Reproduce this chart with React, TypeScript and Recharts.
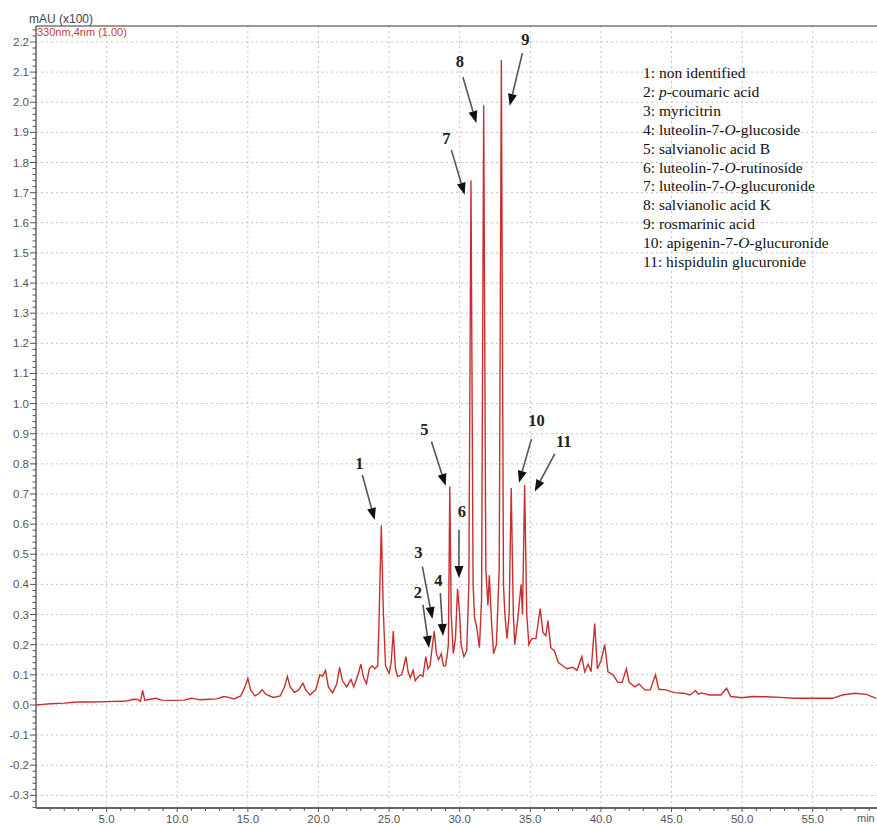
import React from 'react';
import { LineChart, Line, XAxis, YAxis, CartesianGrid, ReferenceLine } from 'recharts';

// retention time (min)
const retentionTime = [
  0, 0.5, 1.0, 2.0, 2.7, 3.0, 4.0, 5.0, 6.0, 6.5,
  6.9, 7.2, 7.4, 7.55, 7.7, 8.0, 8.5, 8.9, 9.5, 10.5,
  11.0, 11.3, 11.6, 12.0, 12.8, 13.3, 13.6, 14.0, 14.5, 14.8,
  15.0, 15.2, 15.5, 15.8, 16.0, 16.3, 16.8, 17.3, 17.6, 17.8,
  18.0, 18.3, 18.6, 18.9, 19.1, 19.4, 19.8, 20.1, 20.3, 20.5,
  20.7, 21.0, 21.3, 21.5, 21.7, 22.0, 22.3, 22.5, 22.8, 23.0,
  23.2, 23.4, 23.6, 23.8, 24.0, 24.2, 24.3, 24.45, 24.6, 24.75,
  25.0, 25.15, 25.3, 25.45, 25.6, 25.9, 26.1, 26.2, 26.35, 26.5,
  26.7, 26.85, 27.0, 27.2, 27.4, 27.6, 27.75, 27.9, 28.05, 28.2,
  28.35, 28.5, 28.7, 28.85, 29.0, 29.1, 29.2, 29.3, 29.4, 29.55,
  29.7, 29.85, 30.0, 30.1, 30.3, 30.5, 30.65, 30.8, 30.95, 31.05,
  31.2, 31.4, 31.55, 31.7, 31.85, 32.0, 32.1, 32.25, 32.4, 32.6,
  32.8, 32.95, 33.1, 33.2, 33.35, 33.5, 33.65, 33.8, 33.9, 34.1,
  34.35, 34.45, 34.6, 34.75, 34.9, 35.1, 35.4, 35.7, 35.9, 36.1,
  36.25, 36.45, 36.7, 37.0, 37.3, 37.6, 38.0, 38.3, 38.65, 38.85,
  39.1, 39.3, 39.56, 39.75, 40.0, 40.27, 40.5, 40.86, 41.2, 41.5,
  41.8, 42.0, 42.4, 42.7, 43.1, 43.5, 43.86, 44.1, 44.6, 45.2,
  45.86, 46.3, 46.7, 46.9, 47.1, 47.7, 48.5, 48.9, 49.2, 50.0,
  50.7, 51.7, 52.7, 53.7, 55.0, 56.4, 57.1, 58.0, 58.8, 59.5,
];

// absorbance, mAU (x100)
const absorbance = [
  0.000, 0.002, 0.004, 0.006, 0.009, 0.010, 0.010, 0.011, 0.012, 0.014,
  0.019, 0.018, 0.012, 0.048, 0.016, 0.018, 0.022, 0.016, 0.015, 0.016,
  0.022, 0.020, 0.017, 0.018, 0.020, 0.028, 0.026, 0.020, 0.030, 0.060,
  0.088, 0.050, 0.030, 0.038, 0.050, 0.035, 0.025, 0.030, 0.060, 0.094,
  0.060, 0.042, 0.050, 0.072, 0.050, 0.033, 0.050, 0.100, 0.095, 0.115,
  0.060, 0.040, 0.070, 0.125, 0.080, 0.060, 0.085, 0.060, 0.100, 0.135,
  0.090, 0.070, 0.120, 0.130, 0.120, 0.130, 0.300, 0.595, 0.300, 0.130,
  0.105, 0.140, 0.245, 0.120, 0.095, 0.100, 0.140, 0.160, 0.110, 0.090,
  0.115, 0.080, 0.090, 0.100, 0.095, 0.160, 0.120, 0.130, 0.190, 0.245,
  0.170, 0.150, 0.170, 0.130, 0.130, 0.160, 0.200, 0.725, 0.300, 0.170,
  0.220, 0.385, 0.300, 0.200, 0.160, 0.180, 0.400, 1.740, 0.400, 0.290,
  0.260, 0.190, 0.350, 1.990, 0.450, 0.330, 0.430, 0.280, 0.170, 0.200,
  0.450, 2.140, 0.400, 0.300, 0.220, 0.300, 0.720, 0.300, 0.200, 0.280,
  0.400, 0.300, 0.730, 0.300, 0.200, 0.220, 0.220, 0.320, 0.240, 0.230,
  0.280, 0.190, 0.180, 0.140, 0.130, 0.120, 0.125, 0.115, 0.160, 0.110,
  0.135, 0.110, 0.270, 0.120, 0.145, 0.200, 0.110, 0.100, 0.075, 0.075,
  0.120, 0.075, 0.060, 0.070, 0.050, 0.050, 0.100, 0.052, 0.050, 0.041,
  0.039, 0.033, 0.048, 0.036, 0.040, 0.033, 0.033, 0.055, 0.028, 0.024,
  0.028, 0.027, 0.025, 0.022, 0.022, 0.022, 0.033, 0.039, 0.035, 0.022,
];

const yMajorTicks = [-0.3, -0.2, -0.1, 0.0, 0.1, 0.2, 0.3, 0.4, 0.5, 0.6, 0.7, 0.8, 0.9, 1.0,
  1.1, 1.2, 1.3, 1.4, 1.5, 1.6, 1.7, 1.8, 1.9, 2.0, 2.1, 2.2];
const xMajorTicks = [5, 10, 15, 20, 25, 30, 35, 40, 45, 50, 55];

const compounds = [
  ['1: ', 'non identified'],
  ['2: ', <><tspan fontStyle="italic">p</tspan>-coumaric acid</>],
  ['3: ', 'myricitrin'],
  ['4: ', <>luteolin-7-<tspan fontStyle="italic">O</tspan>-glucoside</>],
  ['5: ', 'salvianolic acid B'],
  ['6: ', <>luteolin-7-<tspan fontStyle="italic">O</tspan>-rutinoside</>],
  ['7: ', <>luteolin-7-<tspan fontStyle="italic">O</tspan>-glucuronide</>],
  ['8: ', 'salvianolic acid K'],
  ['9: ', 'rosmarinic acid'],
  ['10: ', <>apigenin-7-<tspan fontStyle="italic">O</tspan>-glucuronide</>],
  ['11: ', 'hispidulin glucuronide'],
];

// arrow annotations: from (x1,y1) to tip (x2,y2) in data units; label offset in px from start
const arrows = [
  { n: '1', x1: 23.11, y1: 0.763, x2: 23.98, y2: 0.614, dx: -3, dy: -11 },
  { n: '2', x1: 27.40, y1: 0.332, x2: 27.83, y2: 0.189, dx: -5, dy: -12 },
  { n: '3', x1: 27.36, y1: 0.459, x2: 28.07, y2: 0.285, dx: -4, dy: -14 },
  { n: '4', x1: 28.63, y1: 0.371, x2: 28.82, y2: 0.229, dx: -2, dy: -12 },
  { n: '5', x1: 28.00, y1: 0.874, x2: 29.01, y2: 0.727, dx: -7, dy: -12 },
  { n: '6', x1: 29.95, y1: 0.581, x2: 29.95, y2: 0.421, dx: 3, dy: -18 },
  { n: '7', x1: 29.41, y1: 1.842, x2: 30.35, y2: 1.693, dx: -5, dy: -11 },
  { n: '8', x1: 30.23, y1: 2.083, x2: 31.18, y2: 1.931, dx: -3, dy: -15 },
  { n: '9', x1: 34.44, y1: 2.163, x2: 33.54, y2: 1.988, dx: 3, dy: -13 },
  { n: '10', x1: 35.08, y1: 0.882, x2: 34.20, y2: 0.737, dx: 5, dy: -18 },
  { n: '11', x1: 36.73, y1: 0.833, x2: 35.31, y2: 0.708, dx: 9, dy: -12 },
];

const data = retentionTime.map((t, i) => ({ t, v: absorbance[i] }));

const yMinorTicks: number[] = [];
for (let i = -17; i <= 112; i++) yMinorTicks.push(Math.round(i * 2) / 100);
const xMinorTicks: number[] = [];
for (let i = 1; i <= 59; i++) xMinorTicks.push(i);

const Y_MIN = -0.342;
const Y_MAX = 2.253;
const X_MAX = 59.55;

const isMajorY = (v: number) => yMajorTicks.some((m) => Math.abs(m - v) < 1e-6);

const axisFont = '"Liberation Sans", Arial, sans-serif';
const serifFont = '"Liberation Serif", "Times New Roman", serif';

function YTick(props: any) {
  const { x, y, payload } = props;
  const major = isMajorY(payload.value);
  return (
    <g>
      <line x1={x - (major ? 6 : 3.5)} x2={x} y1={y} y2={y} stroke="#555" strokeWidth={1} />
      {major && (
        <text x={x - 7} y={y} dy={4} textAnchor="end" fontSize={11.5} fill="#555" fontFamily={axisFont}>
          {payload.value.toFixed(1)}
        </text>
      )}
    </g>
  );
}

function XTick(props: any) {
  const { x, y, payload } = props;
  const major = xMajorTicks.includes(payload.value);
  return (
    <g>
      <line x1={x} x2={x} y1={y} y2={y + (major ? 4 : 3)} stroke="#555" strokeWidth={1} />
      {major && (
        <text x={x} y={y + 15} textAnchor="middle" fontSize={11.5} fill="#555" fontFamily={axisFont}>
          {payload.value.toFixed(1)}
        </text>
      )}
    </g>
  );
}

function arrowShape(a: typeof arrows[number]) {
  return (p: any) => {
    const { x1, y1, x2, y2 } = p;
    const ang = Math.atan2(y2 - y1, x2 - x1);
    const len = 12;
    const hw = 4.5;
    const bx = x2 - len * Math.cos(ang);
    const by = y2 - len * Math.sin(ang);
    const px = -Math.sin(ang) * hw;
    const py = Math.cos(ang) * hw;
    return (
      <g>
        <line x1={x1} y1={y1} x2={bx} y2={by} stroke="#555" strokeWidth={1.6} />
        <polygon points={`${x2},${y2} ${bx + px},${by + py} ${bx - px},${by - py}`} fill="#111" />
        <text x={x1 + a.dx} y={y1 + a.dy} dy={5} textAnchor="middle" fontSize={16.5} fontWeight="bold"
          fill="#222" fontFamily={serifFont}>{a.n}</text>
      </g>
    );
  };
}

export default function App() {
  return (
    <div style={{ position: 'absolute', left: 0, top: 0, width: 877, height: 825, overflow: 'hidden', background: '#fff' }}>
      <LineChart width={877} height={825} data={data} margin={{ top: 26, right: 0, bottom: 0, left: 0 }}>
        <CartesianGrid stroke="#c4c4c4" strokeDasharray="2 3"
          horizontalValues={yMajorTicks} verticalValues={xMajorTicks} />
        <XAxis dataKey="t" type="number" domain={[0, X_MAX]} ticks={xMinorTicks} interval={0}
          allowDataOverflow height={17} tickLine={false} tickSize={0} tickMargin={0}
          axisLine={{ stroke: '#666', strokeWidth: 2 }} tick={<XTick />} />
        <YAxis type="number" domain={[Y_MIN, Y_MAX]} ticks={yMinorTicks} interval={0}
          allowDataOverflow width={36} tickLine={false} tickSize={0} tickMargin={0}
          axisLine={{ stroke: '#666', strokeWidth: 1.5 }} tick={<YTick />} />
        <ReferenceLine y={Y_MAX} stroke="#777" strokeWidth={1.5} />
        <Line type="linear" dataKey="v" stroke="#c8302f" strokeWidth={1.4} dot={false}
          isAnimationActive={false} />
        {arrows.map((a) => (
          <ReferenceLine key={a.n} segment={[{ x: a.x1, y: a.y1 }, { x: a.x2, y: a.y2 }]}
            shape={arrowShape(a)} ifOverflow="visible" />
        ))}
      </LineChart>
      <div style={{ position: 'absolute', left: 29, top: 12, fontFamily: axisFont, fontSize: 12, color: '#444', lineHeight: '14px' }}>
        mAU (x100)
      </div>
      <div style={{ position: 'absolute', left: 37, top: 26, fontFamily: axisFont, fontSize: 11, color: '#d0393a', lineHeight: '13px' }}>
        330nm,4nm (1.00)
      </div>
      <div style={{ position: 'absolute', left: 857, top: 811, fontFamily: axisFont, fontSize: 11, color: '#555', lineHeight: '14px', whiteSpace: 'nowrap' }}>
        min
      </div>
      <svg style={{ position: 'absolute', left: 0, top: 0 }} width={877} height={300}>
        {compounds.map(([num, name], i) => (
          <text key={i} x={643} y={78 + i * 18.9} fontSize={15.5} fill="#111" fontFamily={serifFont}>
            {num}{name}
          </text>
        ))}
      </svg>
    </div>
  );
}
